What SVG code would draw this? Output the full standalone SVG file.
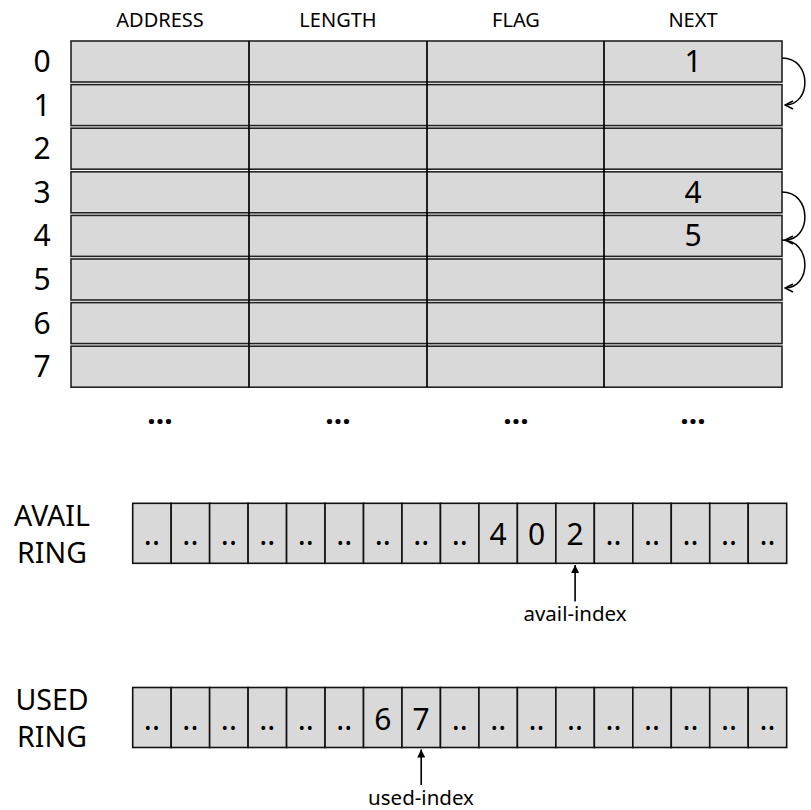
<svg xmlns="http://www.w3.org/2000/svg" width="811" height="810" viewBox="0 0 811 810">
<style>
text{font-family:"Noto Sans","Open Sans","DejaVu Sans",sans-serif;fill:#000}
.hdr{font-size:20px;text-anchor:middle}
.big{font-size:30px;text-anchor:middle}
.name{font-size:28.5px;text-anchor:middle}
.idx{font-size:30px;text-anchor:middle}
.lbl{font-size:20.5px;text-anchor:middle}
.dots{font-size:30px;font-weight:bold;text-anchor:middle}
.row{fill:#d9d9d9;stroke:#222;stroke-width:1.6}
.cell{fill:#d9d9d9;stroke:#111;stroke-width:1.6}
.div{stroke:#000;stroke-width:1.7}
.arc{fill:none;stroke:#000;stroke-width:1.5}
.ptr{stroke:#000;stroke-width:1.6}
</style>
<defs>
<marker id="open" viewBox="0 0 10 10" refX="9" refY="5" markerWidth="10" markerHeight="10" markerUnits="userSpaceOnUse" orient="auto">
<path d="M1,1 L9,5 L1,9" fill="none" stroke="#000" stroke-width="1.5"/>
</marker>
<marker id="tri" viewBox="0 0 10 10" refX="10" refY="5" markerWidth="12" markerHeight="8" markerUnits="userSpaceOnUse" orient="auto">
<path d="M0,0 L10,5 L0,10 Z" fill="#000"/>
</marker>
</defs>

<g id="headers">
<text class="hdr" x="160" y="27">ADDRESS</text>
<text class="hdr" x="338" y="27">LENGTH</text>
<text class="hdr" x="516" y="27">FLAG</text>
<text class="hdr" x="693" y="27">NEXT</text>
</g>

<g id="table">
<g id="row0"><rect class="row" x="71" y="41" width="711" height="41"/><text class="idx" x="42" y="72">0</text><text class="big" x="693" y="72">1</text></g>
<g id="row1"><rect class="row" x="71" y="84.6" width="711" height="41"/><text class="idx" x="42" y="115.6">1</text></g>
<g id="row2"><rect class="row" x="71" y="128.2" width="711" height="41"/><text class="idx" x="42" y="159.2">2</text></g>
<g id="row3"><rect class="row" x="71" y="171.8" width="711" height="41"/><text class="idx" x="42" y="202.8">3</text><text class="big" x="693" y="202.8">4</text></g>
<g id="row4"><rect class="row" x="71" y="215.4" width="711" height="41"/><text class="idx" x="42" y="246.4">4</text><text class="big" x="693" y="246.4">5</text></g>
<g id="row5"><rect class="row" x="71" y="259" width="711" height="41"/><text class="idx" x="42" y="290">5</text></g>
<g id="row6"><rect class="row" x="71" y="302.6" width="711" height="41"/><text class="idx" x="42" y="333.6">6</text></g>
<g id="row7"><rect class="row" x="71" y="346.2" width="711" height="41"/><text class="idx" x="42" y="377.2">7</text></g>
<line class="div" x1="249" y1="41" x2="249" y2="387.2"/>
<line class="div" x1="427" y1="41" x2="427" y2="387.2"/>
<line class="div" x1="604" y1="41" x2="604" y2="387.2"/>
<text class="dots" x="160" y="424">...</text>
<text class="dots" x="338" y="424">...</text>
<text class="dots" x="516" y="424">...</text>
<text class="dots" x="693" y="424">...</text>
</g>

<g id="avail">
<text class="name" x="52" y="525.5">AVAIL</text>
<text class="name" x="52" y="562.5">RING</text>
<g id="availcells">
<rect class="cell" x="132.7" y="503.3" width="38.47" height="60"/>
<rect class="cell" x="171.17" y="503.3" width="38.47" height="60"/>
<rect class="cell" x="209.64" y="503.3" width="38.47" height="60"/>
<rect class="cell" x="248.11" y="503.3" width="38.47" height="60"/>
<rect class="cell" x="286.58" y="503.3" width="38.47" height="60"/>
<rect class="cell" x="325.05" y="503.3" width="38.47" height="60"/>
<rect class="cell" x="363.52" y="503.3" width="38.47" height="60"/>
<rect class="cell" x="401.99" y="503.3" width="38.47" height="60"/>
<rect class="cell" x="440.46" y="503.3" width="38.47" height="60"/>
<rect class="cell" x="478.93" y="503.3" width="38.47" height="60"/>
<rect class="cell" x="517.4" y="503.3" width="38.47" height="60"/>
<rect class="cell" x="555.87" y="503.3" width="38.47" height="60"/>
<rect class="cell" x="594.34" y="503.3" width="38.47" height="60"/>
<rect class="cell" x="632.81" y="503.3" width="38.47" height="60"/>
<rect class="cell" x="671.28" y="503.3" width="38.47" height="60"/>
<rect class="cell" x="709.75" y="503.3" width="38.47" height="60"/>
<rect class="cell" x="748.22" y="503.3" width="38.47" height="60"/>
</g>
<g>
<text class="big" x="151.9" y="545">..</text>
<text class="big" x="190.4" y="545">..</text>
<text class="big" x="228.9" y="545">..</text>
<text class="big" x="267.3" y="545">..</text>
<text class="big" x="305.8" y="545">..</text>
<text class="big" x="344.3" y="545">..</text>
<text class="big" x="382.8" y="545">..</text>
<text class="big" x="421.2" y="545">..</text>
<text class="big" x="459.7" y="545">..</text>
<text class="big" x="498.2" y="545">4</text>
<text class="big" x="536.6" y="545">0</text>
<text class="big" x="575.1" y="545">2</text>
<text class="big" x="613.6" y="545">..</text>
<text class="big" x="652" y="545">..</text>
<text class="big" x="690.5" y="545">..</text>
<text class="big" x="729" y="545">..</text>
<text class="big" x="767.5" y="545">..</text>
</g>
<text class="lbl" x="575" y="621">avail-index</text>
</g>

<g id="used">
<text class="name" x="52" y="709.5">USED</text>
<text class="name" x="52" y="746.5">RING</text>
<g id="usedcells">
<rect class="cell" x="132.7" y="687.5" width="38.47" height="60"/>
<rect class="cell" x="171.17" y="687.5" width="38.47" height="60"/>
<rect class="cell" x="209.64" y="687.5" width="38.47" height="60"/>
<rect class="cell" x="248.11" y="687.5" width="38.47" height="60"/>
<rect class="cell" x="286.58" y="687.5" width="38.47" height="60"/>
<rect class="cell" x="325.05" y="687.5" width="38.47" height="60"/>
<rect class="cell" x="363.52" y="687.5" width="38.47" height="60"/>
<rect class="cell" x="401.99" y="687.5" width="38.47" height="60"/>
<rect class="cell" x="440.46" y="687.5" width="38.47" height="60"/>
<rect class="cell" x="478.93" y="687.5" width="38.47" height="60"/>
<rect class="cell" x="517.4" y="687.5" width="38.47" height="60"/>
<rect class="cell" x="555.87" y="687.5" width="38.47" height="60"/>
<rect class="cell" x="594.34" y="687.5" width="38.47" height="60"/>
<rect class="cell" x="632.81" y="687.5" width="38.47" height="60"/>
<rect class="cell" x="671.28" y="687.5" width="38.47" height="60"/>
<rect class="cell" x="709.75" y="687.5" width="38.47" height="60"/>
<rect class="cell" x="748.22" y="687.5" width="38.47" height="60"/>
</g>
<g>
<text class="big" x="151.9" y="729.5">..</text>
<text class="big" x="190.4" y="729.5">..</text>
<text class="big" x="228.9" y="729.5">..</text>
<text class="big" x="267.3" y="729.5">..</text>
<text class="big" x="305.8" y="729.5">..</text>
<text class="big" x="344.3" y="729.5">..</text>
<text class="big" x="382.8" y="729.5">6</text>
<text class="big" x="421.2" y="729.5">7</text>
<text class="big" x="459.7" y="729.5">..</text>
<text class="big" x="498.2" y="729.5">..</text>
<text class="big" x="536.6" y="729.5">..</text>
<text class="big" x="575.1" y="729.5">..</text>
<text class="big" x="613.6" y="729.5">..</text>
<text class="big" x="652" y="729.5">..</text>
<text class="big" x="690.5" y="729.5">..</text>
<text class="big" x="729" y="729.5">..</text>
<text class="big" x="767.5" y="729.5">..</text>
</g>
<text class="lbl" x="421" y="805">used-index</text>
</g>

<g id="connectors">
<path class="arc" d="M782,58 C812,58 812,105 785,105" marker-end="url(#open)"/>
<path class="arc" d="M782,192 C812,192 812,240 785,240" marker-end="url(#open)"/>
<path class="arc" d="M782,240 C812,240 812,288 785,288" marker-end="url(#open)"/>
<line class="ptr" x1="575.1" y1="601.5" x2="575.1" y2="565" marker-end="url(#tri)"/>
<line class="ptr" x1="421.2" y1="785" x2="421.2" y2="749.5" marker-end="url(#tri)"/>
</g>
</svg>
